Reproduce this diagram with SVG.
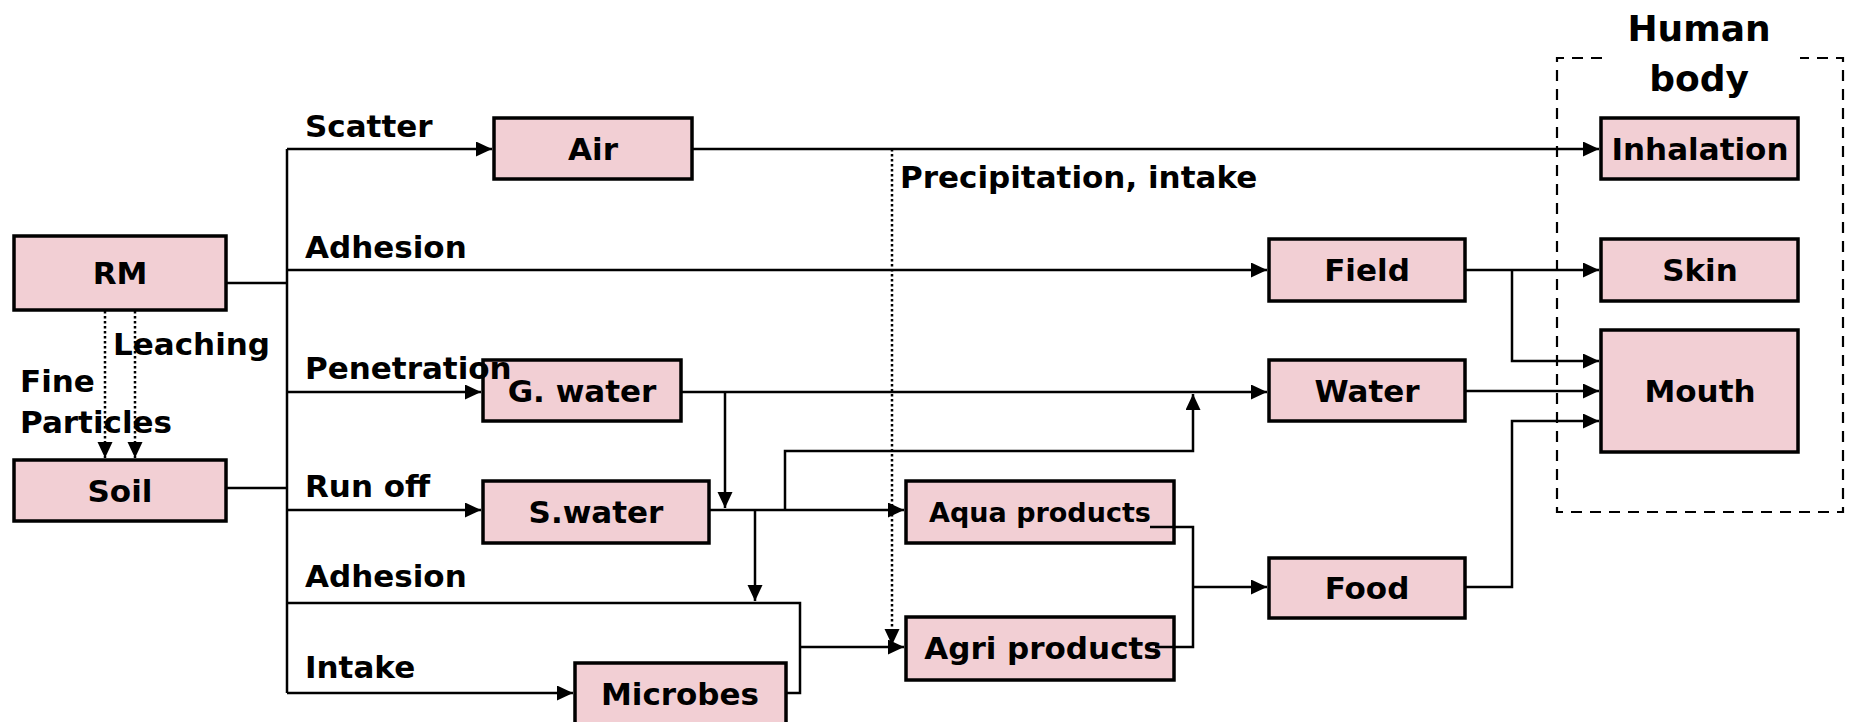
<svg xmlns="http://www.w3.org/2000/svg" width="1850" height="722" viewBox="0 0 1850 722">
<style>
.box{fill:#F2CFD4;stroke:#000;stroke-width:3.5}
.t{font-family:"DejaVu Sans","Liberation Sans",sans-serif;font-weight:bold;font-size:31px;fill:#000}
.c{text-anchor:middle}
.ln{fill:none;stroke:#000;stroke-width:2.5}
.dot{fill:none;stroke:#000;stroke-width:2.5;stroke-dasharray:2.5,2.5}
.dash{fill:none;stroke:#000;stroke-width:2.2;stroke-dasharray:11,8}
</style>
<defs>
<marker id="ah" markerUnits="userSpaceOnUse" markerWidth="18" markerHeight="16" refX="16" refY="7.5" orient="auto">
<path d="M0,0 L16,7.5 L0,15 z" fill="#000"/>
</marker>
</defs>
<rect width="1850" height="722" fill="#fff"/>
<g id="human-body">
<path class="dash" d="M1602,58 H1557 V512 H1843 V58 H1800"/>
<text class="t c" x="1699" y="41" style="font-size:36px">Human</text>
<text class="t c" x="1699" y="91" style="font-size:36px">body</text>
</g>
<g id="RM"><rect class="box" x="14" y="236" width="212" height="74"/><text class="t c" x="120" y="284">RM</text></g>
<g id="Soil"><rect class="box" x="14" y="460" width="212" height="61"/><text class="t c" x="120" y="502">Soil</text></g>
<g id="Air"><rect class="box" x="494" y="118" width="198" height="61"/><text class="t c" x="593" y="160">Air</text></g>
<g id="GWater"><rect class="box" x="483" y="360" width="198" height="61"/><text class="t c" x="582" y="402">G. water</text></g>
<g id="SWater"><rect class="box" x="483" y="481" width="226" height="62"/><text class="t c" x="596" y="523">S.water</text></g>
<g id="Microbes"><rect class="box" x="575" y="663" width="211" height="64"/><text class="t c" x="680" y="705">Microbes</text></g>
<g id="Aqua"><rect class="box" x="906" y="481" width="268" height="62"/><text class="t c" x="1040" y="522" style="font-size:27px">Aqua products</text></g>
<g id="Agri"><rect class="box" x="906" y="617" width="268" height="63"/><text class="t c" x="1043" y="659">Agri products</text></g>
<g id="Field"><rect class="box" x="1269" y="239" width="196" height="62"/><text class="t c" x="1367" y="281">Field</text></g>
<g id="Water"><rect class="box" x="1269" y="360" width="196" height="61"/><text class="t c" x="1367" y="402">Water</text></g>
<g id="Food"><rect class="box" x="1269" y="558" width="196" height="60"/><text class="t c" x="1367" y="599">Food</text></g>
<g id="Inhalation"><rect class="box" x="1601" y="118" width="197" height="61"/><text class="t c" x="1700" y="160">Inhalation</text></g>
<g id="Skin"><rect class="box" x="1601" y="239" width="197" height="62"/><text class="t c" x="1700" y="281">Skin</text></g>
<g id="Mouth"><rect class="box" x="1601" y="330" width="197" height="122"/><text class="t c" x="1700" y="402">Mouth</text></g>
<g id="connectors">
<path class="ln" d="M226,283 H287"/>
<path class="ln" d="M226,488 H287"/>
<path class="ln" d="M287,149 V693"/>
<path class="ln" d="M287,149 H492" marker-end="url(#ah)"/>
<path class="ln" d="M287,270 H1267" marker-end="url(#ah)"/>
<path class="ln" d="M287,392 H481" marker-end="url(#ah)"/>
<path class="ln" d="M287,510 H481" marker-end="url(#ah)"/>
<path class="ln" d="M287,603 H800 V693 H786"/>
<path class="ln" d="M800,647 H904" marker-end="url(#ah)"/>
<path class="ln" d="M287,693 H573" marker-end="url(#ah)"/>
<path class="ln" d="M692,149 H1599" marker-end="url(#ah)"/>
<path class="dot" d="M892,149 V645" marker-end="url(#ah)"/>
<path class="ln" d="M681,392 H1267" marker-end="url(#ah)"/>
<path class="ln" d="M725,392 V508" marker-end="url(#ah)"/>
<path class="ln" d="M709,510 H904" marker-end="url(#ah)"/>
<path class="ln" d="M785,510 V451 H1193 V394" marker-end="url(#ah)"/>
<path class="ln" d="M755,510 V601" marker-end="url(#ah)"/>
<path class="ln" d="M1150,527 H1193 V647 H1155"/>
<path class="ln" d="M1193,587 H1267" marker-end="url(#ah)"/>
<path class="ln" d="M1465,270 H1599" marker-end="url(#ah)"/>
<path class="ln" d="M1512,270 V361 H1599" marker-end="url(#ah)"/>
<path class="ln" d="M1465,391 H1599" marker-end="url(#ah)"/>
<path class="ln" d="M1465,587 H1512 V421 H1599" marker-end="url(#ah)"/>
<path class="dot" d="M105,311 V458" marker-end="url(#ah)"/>
<path class="dot" d="M135,311 V458" marker-end="url(#ah)"/>
</g>
<g id="labels">
<text class="t" x="305" y="137">Scatter</text>
<text class="t" x="305" y="258">Adhesion</text>
<text class="t" x="305" y="379">Penetration</text>
<text class="t" x="305" y="497">Run off</text>
<text class="t" x="305" y="587">Adhesion</text>
<text class="t" x="305" y="678">Intake</text>
<text class="t" x="900" y="188">Precipitation, intake</text>
<text class="t" x="113" y="355">Leaching</text>
<text class="t" x="20" y="392">Fine</text>
<text class="t" x="20" y="433">Particles</text>
</g>
</svg>
